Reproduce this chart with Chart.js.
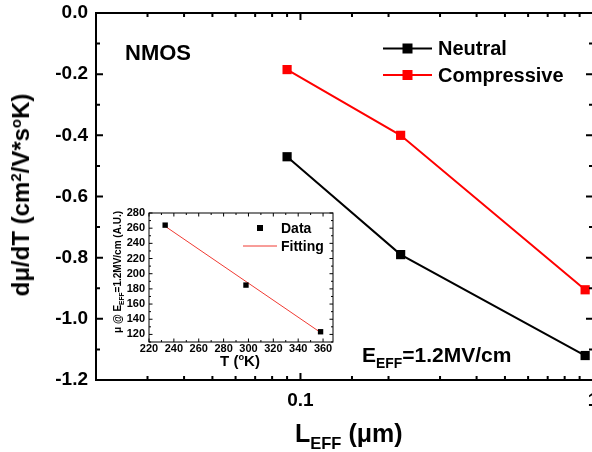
<!DOCTYPE html>
<html>
<head>
<meta charset="utf-8">
<script src="https://cdn.jsdelivr.net/npm/chart.js@4/dist/chart.umd.min.js"></script>
<style>
  body { margin: 0; background: #fff; overflow: hidden; }
  #wrap { position: relative; width: 592px; height: 452px; overflow: hidden; }
  canvas { position: absolute; }
  .lbl { position: absolute; font-family: 'Liberation Sans', Arial, sans-serif; font-weight: bold;
         color: #000; white-space: nowrap; line-height: 1; }
  .lbl sup { font-size: 0.62em; vertical-align: 0.55em; line-height: 0; }
  .lbl sub { font-size: 0.66em; vertical-align: -0.4em; line-height: 0; }
  .rot { transform: translate(-50%, -50%) rotate(-90deg); }
  .ctr { transform: translate(-50%, -50%); }
</style>
</head>
<body>
<div id="wrap">
  <canvas id="main" width="600" height="452" style="left:0;top:0"></canvas>
  <canvas id="inset" width="240" height="175" style="left:100px;top:200px"></canvas>

  <div class="lbl rot" style="left:21px;top:195px;font-size:24px">d&mu;/dT (cm<sup>2</sup>/V*s<sup>o</sup>K)</div>
  <div class="lbl" style="left:295px;top:421px;font-size:25px">L<sub>EFF</sub> (&mu;m)</div>
  <div class="lbl" style="left:125px;top:42px;font-size:22px">NMOS</div>
  <div class="lbl" style="left:362px;top:344px;font-size:21px">E<sub>EFF</sub>=1.2MV/cm</div>

  <div class="lbl rot" style="left:118px;top:272px;font-size:10px">&mu; @ E<sub>EFF</sub>=1.2MV/cm (A.U.)</div>
  <div class="lbl ctr" style="left:240px;top:360px;font-size:15px">T (<sup>o</sup>K)</div>
</div>

<script>
// main plot: temperature coefficient vs effective channel length
const lengths = [0.09, 0.22, 0.94];
const neutral = [-0.47, -0.79, -1.12];
const compressive = [-0.185, -0.40, -0.905];

// inset: mobility vs temperature
const tempK = [233, 298, 358];
const mobility = [264, 185, 123.5];
const fitT = [233, 358];
const fitMu = [262.5, 122.5];

const FONT = "'Liberation Sans', Arial, sans-serif";

const toPoints = (xs, ys) => xs.map((x, i) => ({x: x, y: ys[i]}));

// major / minor tick values taken from the scale's own ticks
const tickSets = (scale) => {
  const vals = scale.ticks.map(t => t.value);
  if (scale.type === 'logarithmic') {
    const isPow = v => Math.abs(Math.log10(v) - Math.round(Math.log10(v))) < 1e-6;
    return { major: vals.filter(isPow), minor: vals.filter(v => !isPow(v)) };
  }
  const step = vals[1] - vals[0];
  const minor = [];
  for (let v = vals[0] - step / 2; v <= scale.max + 1e-9; v += step) {
    if (v >= scale.min - 1e-9) minor.push(v);
  }
  return { major: vals, minor: minor };
};

// layout paddings from the tick labels would shift the plot area, drop them
const noPad = s => { s.paddingTop = 0; s.paddingBottom = 0; s.paddingLeft = 0; s.paddingRight = 0; };

// box round the plot with inward ticks on all four sides
const frameTicks = {
  id: 'frameTicks',
  afterDraw(chart, args, opts) {
    const {ctx, chartArea: a} = chart;
    const xs = tickSets(chart.scales.x), ys = tickSets(chart.scales.y);
    const major = opts.major, minor = opts.minor;
    ctx.save();
    ctx.strokeStyle = '#000';
    ctx.lineWidth = opts.lineWidth;
    ctx.strokeRect(a.left, a.top, a.right - a.left, a.bottom - a.top);
    ctx.beginPath();
    const xTick = (v, len) => {
      const px = chart.scales.x.getPixelForValue(v);
      ctx.moveTo(px, a.bottom); ctx.lineTo(px, a.bottom - len);
      ctx.moveTo(px, a.top); ctx.lineTo(px, a.top + len);
    };
    const yTick = (v, len) => {
      const py = chart.scales.y.getPixelForValue(v);
      ctx.moveTo(a.left, py); ctx.lineTo(a.left + len, py);
      ctx.moveTo(a.right, py); ctx.lineTo(a.right - len, py);
    };
    xs.major.forEach(v => xTick(v, major));
    xs.minor.forEach(v => xTick(v, minor));
    ys.major.forEach(v => yTick(v, major));
    ys.minor.forEach(v => yTick(v, minor));
    ctx.stroke();
    ctx.restore();
  }
};

const legendInside = {
  id: 'legendInside',
  afterDraw(chart, args, opts) {
    const ctx = chart.ctx;
    ctx.save();
    ctx.font = 'bold ' + opts.size + 'px ' + FONT;
    ctx.textBaseline = 'middle';
    chart.data.datasets.forEach((ds, i) => {
      const y = opts.y + i * opts.gap;
      const mid = opts.x + opts.lineLen / 2;
      if (ds.showLine !== false) {
        ctx.strokeStyle = ds.borderColor;
        ctx.lineWidth = ds.borderWidth;
        ctx.beginPath();
        ctx.moveTo(opts.x, y);
        ctx.lineTo(opts.x + opts.lineLen, y);
        ctx.stroke();
      }
      if (ds.pointRadius > 0) {
        ctx.fillStyle = ds.pointBackgroundColor;
        ctx.fillRect(mid - opts.box / 2, y - opts.box / 2, opts.box, opts.box);
      }
      ctx.fillStyle = '#000';
      ctx.fillText(ds.label, opts.x + opts.lineLen + opts.textGap, y + 1);
    });
    ctx.restore();
  }
};

const createMainChart = () => {
  const ctx = document.getElementById('main');
  new Chart(ctx, {
    type: 'line',
    data: {
      datasets: [{
        label: 'Neutral',
        data: toPoints(lengths, neutral),
        borderColor: '#000',
        borderWidth: 2,
        pointStyle: 'rect',
        pointRadius: 6.5,
        pointBorderWidth: 0,
        pointBackgroundColor: '#000',
        tension: 0,
      }, {
        label: 'Compressive',
        data: toPoints(lengths, compressive),
        borderColor: '#ff0000',
        borderWidth: 2,
        pointStyle: 'rect',
        pointRadius: 6.5,
        pointBorderWidth: 0,
        pointBackgroundColor: '#ff0000',
        tension: 0,
      }]
    },
    options: {
      responsive: false,
      animation: false,
      devicePixelRatio: 1,
      layout: { padding: { left: 0, top: 13, right: 7, bottom: 0 } },
      plugins: {
        legend: { display: false },
        tooltip: { enabled: false },
        frameTicks: { lineWidth: 2, major: 7, minor: 4 },
        legendInside: { x: 383, y: 48.5, gap: 26.5, lineLen: 49, box: 10, textGap: 6, size: 20 },
      },
      scales: {
        x: {
          type: 'logarithmic',
          min: 0.02,
          max: 1,
          grid: { display: false, drawTicks: false },
          border: { display: false },
          afterFit: s => { s.height = 72; noPad(s); },
          ticks: {
            autoSkip: false,
            maxRotation: 0,
            padding: 9,
            color: '#000',
            font: { size: 19, weight: 'bold', family: FONT },
            callback: v => {
              const l = Math.log10(v);
              return Math.abs(l - Math.round(l)) < 1e-6 ? String(+v.toPrecision(3)) : '';
            }
          }
        },
        y: {
          min: -1.2,
          max: 0,
          grid: { display: false, drawTicks: false },
          border: { display: false },
          afterFit: s => { s.width = 96; noPad(s); },
          ticks: {
            stepSize: 0.2,
            autoSkip: false,
            padding: 8,
            color: '#000',
            font: { size: 19, weight: 'bold', family: FONT },
            callback: v => v.toFixed(1)
          }
        }
      }
    },
    plugins: [frameTicks, legendInside]
  });
};

const createInsetChart = () => {
  const ctx = document.getElementById('inset');
  new Chart(ctx, {
    type: 'line',
    data: {
      datasets: [{
        label: 'Data',
        data: toPoints(tempK, mobility),
        showLine: false,
        borderColor: '#000',
        pointStyle: 'rect',
        pointRadius: 3.8,
        pointBorderWidth: 0,
        pointBackgroundColor: '#000',
      }, {
        label: 'Fitting',
        data: toPoints(fitT, fitMu),
        borderColor: '#f03a32',
        borderWidth: 1,
        pointRadius: 0,
        tension: 0,
      }]
    },
    options: {
      responsive: false,
      animation: false,
      devicePixelRatio: 1,
      layout: { padding: { left: 0, top: 13, right: 7, bottom: 0 } },
      plugins: {
        legend: { display: false },
        tooltip: { enabled: false },
        frameTicks: { lineWidth: 1, major: 3.5, minor: 2 },
        legendInside: { x: 143, y: 28, gap: 18, lineLen: 34, box: 6, textGap: 4, size: 14 },
      },
      scales: {
        x: {
          type: 'linear',
          min: 220,
          max: 368,
          grid: { display: false, drawTicks: false },
          border: { display: false },
          afterFit: s => { s.height = 33; noPad(s); },
          ticks: {
            stepSize: 20,
            includeBounds: false,
            autoSkip: false,
            maxRotation: 0,
            padding: 0,
            color: '#000',
            font: { size: 11, weight: 'bold', family: FONT }
          }
        },
        y: {
          min: 110,
          max: 280,
          grid: { display: false, drawTicks: false },
          border: { display: false },
          afterFit: s => { s.width = 49; noPad(s); },
          ticks: {
            stepSize: 20,
            includeBounds: false,
            autoSkip: false,
            padding: 4,
            color: '#000',
            font: { size: 11, weight: 'bold', family: FONT }
          }
        }
      }
    },
    plugins: [frameTicks, legendInside]
  });
};

document.addEventListener('DOMContentLoaded', () => {
  createMainChart();
  createInsetChart();
});
</script>
</body>
</html>
